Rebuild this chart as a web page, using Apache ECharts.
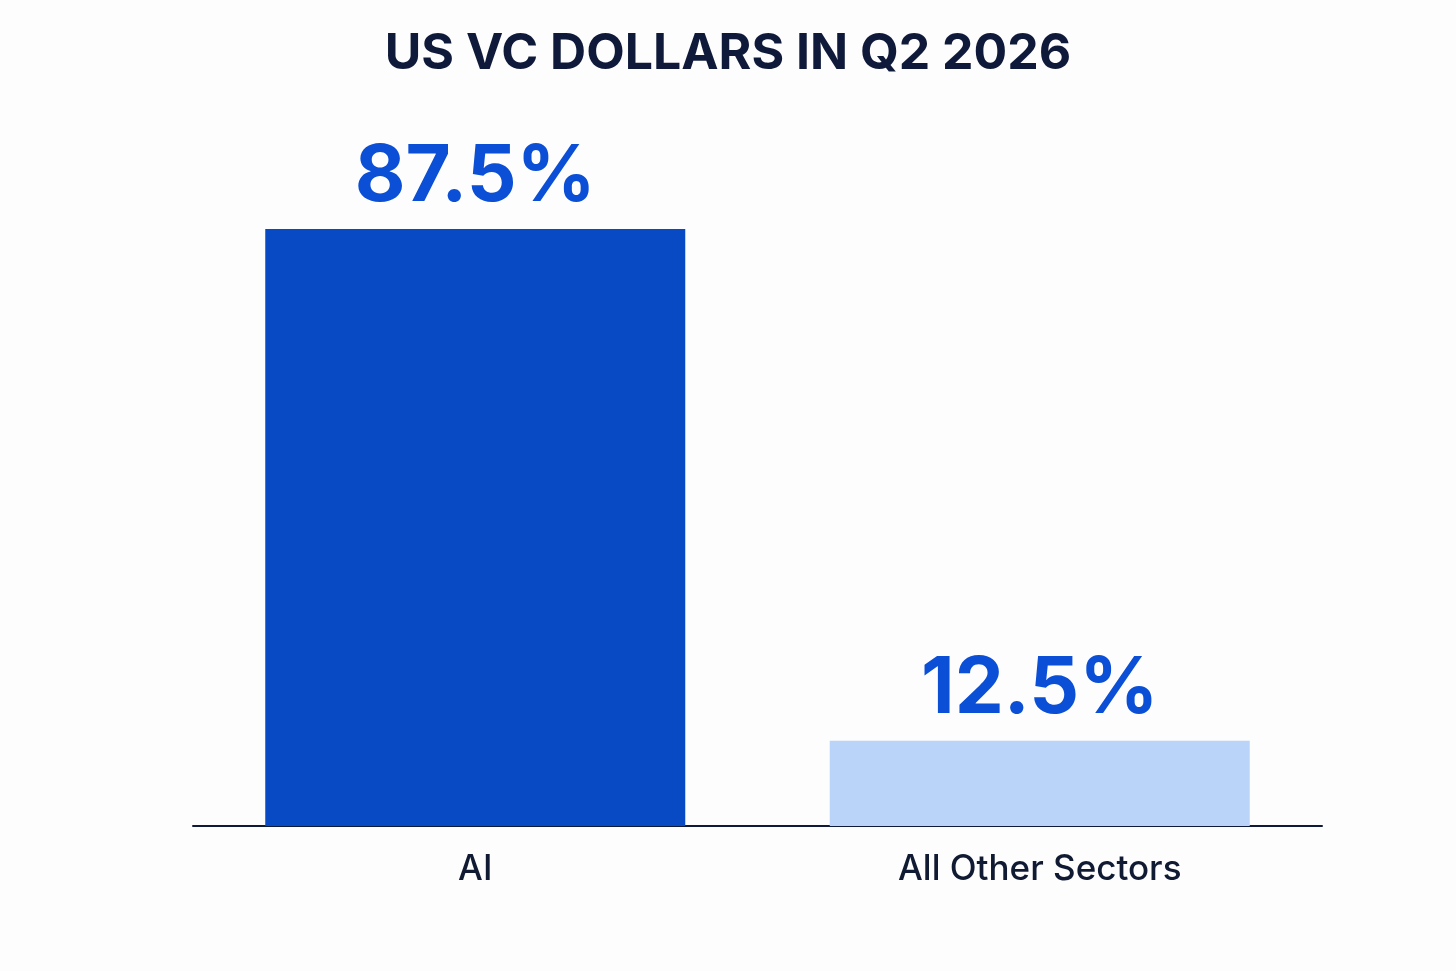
<!DOCTYPE html>
<html>
<head>
<meta charset="utf-8">
<script src="https://cdn.jsdelivr.net/npm/echarts@6/dist/echarts.min.js"></script>
<style>html,body{margin:0;background:#fdfdfd}#main{width:1456px;height:971px}</style>
</head>
<body>
<div id="main"></div>
<script>
var categories = ['AI', 'All Other Sectors'];
var shares = [87.5, 12.5];
var barColors = ['#0849c4', '#b9d4f8'];

var chart = echarts.init(document.getElementById('main'));
chart.setOption({
    backgroundColor: '#fdfdfd',
    title: {
        text: 'US VC DOLLARS IN Q2 2026',
        left: 'center', top: 24,
        textStyle: {fontFamily: 'Inter', fontSize: 50, fontWeight: 'bold', color: '#0f1a3a'}
    },
    grid: {left: 193, right: 134, top: 229, bottom: 145},
    xAxis: {
        type: 'category',
        data: categories,
        axisTick: {show: false},
        axisLine: {lineStyle: {color: '#0f1a3a', width: 2}},
        axisLabel: {margin: 26, fontFamily: 'Inter', fontSize: 35, fontWeight: 500, color: '#111a33'}
    },
    yAxis: {type: 'value', min: 0, max: 87.5, show: false, splitLine: {show: false}},
    series: [{
        type: 'bar',
        barWidth: 420,
        data: shares.map(function (v, i) { return {value: v, itemStyle: {color: barColors[i]}}; }),
        label: {
            show: true, position: 'top', distance: 12,
            formatter: function (p) { return p.value.toFixed(1) + '%'; },
            fontFamily: 'Inter', fontSize: 78, fontWeight: 'bold', color: '#0b4fd6'
        }
    }]
});
</script>
</body>
</html>
